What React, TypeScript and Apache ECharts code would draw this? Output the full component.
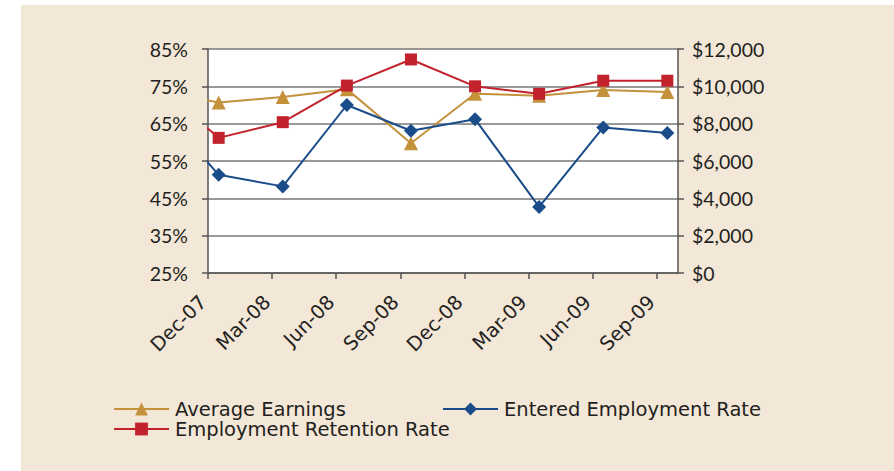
import React, { useEffect, useRef } from 'react';
import * as echarts from 'echarts';

// Quarter periods (first one lies before the axis start and is clipped, as in the reference)
const periods = ['Sep-07', 'Dec-07', 'Mar-08', 'Jun-08', 'Sep-08', 'Dec-08', 'Mar-09', 'Jun-09', 'Sep-09'];
const averageEarnings = [9800, 9130, 9430, 9850, 6950, 9600, 9500, 9800, 9700];
const enteredEmploymentRate = [71, 51.3, 48.2, 70, 63.1, 66.2, 42.7, 64, 62.5];
const employmentRetentionRate = [76, 61.2, 65.4, 75.2, 82.2, 75, 73, 76.5, 76.5];

const xTickLabels = ['Dec-07', 'Mar-08', 'Jun-08', 'Sep-08', 'Dec-08', 'Mar-09', 'Jun-09', 'Sep-09'];
const leftTickValues = [25, 35, 45, 55, 65, 75, 85];
const rightTickValues = [0, 2000, 4000, 6000, 8000, 10000, 12000];

const BEIGE = '#F3E7D7';
const TEXT = '#231F20';
const NUM_FONT = 'Lato, "Noto Sans", sans-serif';
const WORD_FONT = '"DejaVu Sans", sans-serif';
const GOLD = '#C4923A';
const RED = '#C1222B';
const BLUE = '#1B4C8A';

// month offset of each quarter's mid-month; the axis starts at the beginning of Dec-07
const monthPos = (i: number) => (i - 1) * 3 + 0.5;
const toPoints = (vals: number[]) => vals.map((v, i) => [monthPos(i), v]);

export default function App() {
  const ref = useRef<HTMLDivElement>(null);
  useEffect(() => {
    const chart = echarts.init(ref.current!, null, { renderer: 'svg' });
    const xTickValues = xTickLabels.map((_, i) => i * 3);
    const legendText = { fontSize: 19.5, lineHeight: 19, fontFamily: WORD_FONT, color: TEXT, padding: [0, 0, 0, 1] };
    const legendBase = { padding: 0, itemWidth: 55, itemHeight: 16, itemGap: 0, textStyle: legendText };
    const option: any = {
      animation: false,
      backgroundColor: 'transparent',
      textStyle: { fontFamily: NUM_FONT, color: TEXT },
      grid: {
        left: 208,
        right: 216,
        top: 49,
        bottom: 198,
        show: true,
        backgroundColor: '#ffffff',
        borderWidth: 0,
        containLabel: false,
      },
      xAxis: {
        type: 'value',
        min: 0,
        max: 22,
        interval: 3,
        splitLine: { show: false },
        axisLine: { show: true, onZero: false, lineStyle: { color: '#555', width: 1.5 } },
        axisTick: { show: true, length: 6, lineStyle: { color: '#555', width: 1.5 }, customValues: xTickValues },
        axisLabel: {
          customValues: xTickValues,
          rotate: 45,
          margin: 21,
          padding: [0, 7, 0, 0],
          fontSize: 19.5,
          fontFamily: WORD_FONT,
          color: TEXT,
          formatter: (v: number) => xTickLabels[Math.round(v / 3)] ?? '',
        },
      },
      yAxis: [
        {
          type: 'value',
          position: 'left',
          min: 25,
          max: 85,
          splitLine: { show: false },
          axisLine: { show: true, lineStyle: { color: '#555', width: 1.5 } },
          axisTick: { show: true, length: 6, lineStyle: { color: '#555', width: 1.5 }, customValues: leftTickValues },
          axisLabel: {
            customValues: leftTickValues,
            margin: 20,
            fontSize: 19.5,
            fontFamily: NUM_FONT,
            color: TEXT,
            formatter: (v: number) => `${v}%`,
          },
        },
        {
          type: 'value',
          position: 'right',
          min: 0,
          max: 12000,
          interval: 2000,
          splitLine: { show: true, lineStyle: { color: '#777', width: 1.7 } },
          axisLine: { show: true, lineStyle: { color: '#555', width: 1.5 } },
          axisTick: { show: true, length: 6, lineStyle: { color: '#555', width: 1.5 } },
          axisLabel: {
            margin: 14,
            fontSize: 19.5,
            fontFamily: NUM_FONT,
            color: TEXT,
            formatter: (v: number) => (rightTickValues.includes(v) ? '$' + v.toLocaleString('en-US') : ''),
          },
        },
      ],
      legend: [
        { ...legendBase, data: ['Average Earnings'], left: 113, top: 399 },
        { ...legendBase, data: ['Entered Employment Rate'], left: 442, top: 399 },
        { ...legendBase, data: ['Employment Retention Rate'], left: 113, top: 419 },
      ],
      series: [
        {
          name: 'Average Earnings',
          type: 'line',
          yAxisIndex: 1,
          data: toPoints(averageEarnings),
          symbol: 'triangle',
          symbolSize: 14,
          showAllSymbol: true,
          clip: true,
          lineStyle: { color: GOLD, width: 2 },
          itemStyle: { color: GOLD },
        },
        {
          name: 'Entered Employment Rate',
          type: 'line',
          yAxisIndex: 0,
          data: toPoints(enteredEmploymentRate),
          symbol: 'diamond',
          symbolSize: 14,
          showAllSymbol: true,
          clip: true,
          lineStyle: { color: BLUE, width: 2 },
          itemStyle: { color: BLUE },
        },
        {
          name: 'Employment Retention Rate',
          type: 'line',
          yAxisIndex: 0,
          data: toPoints(employmentRetentionRate),
          symbol: 'rect',
          symbolSize: 12,
          showAllSymbol: true,
          clip: true,
          lineStyle: { color: RED, width: 2 },
          itemStyle: { color: RED },
        },
      ],
    };
    chart.setOption(option);
    return () => chart.dispose();
  }, []);
  return (
    <div style={{ position: 'absolute', left: 0, top: 0, width: 894, height: 471, background: '#ffffff' }}>
      <div style={{ position: 'absolute', left: 21, top: 5, right: 0, bottom: 0, background: BEIGE }} />
      <div ref={ref} style={{ position: 'absolute', left: 0, top: 0, width: 894, height: 471 }} />
    </div>
  );
}
